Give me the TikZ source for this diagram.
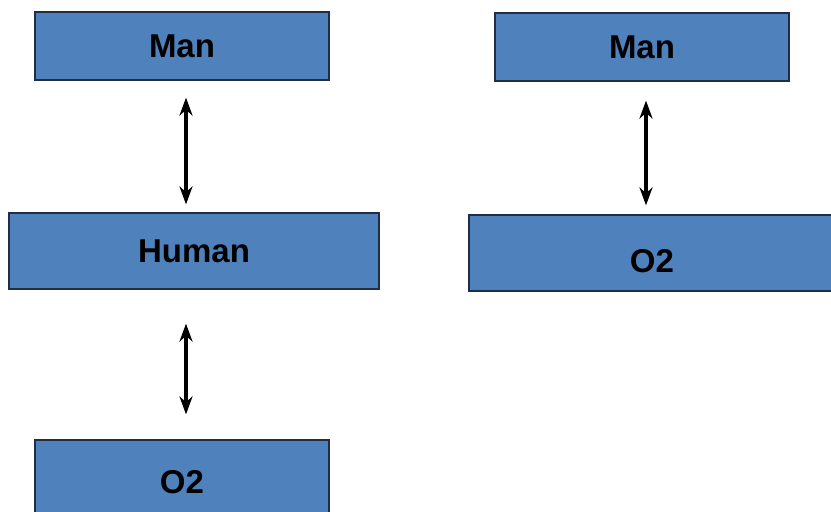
\documentclass[tikz,border=0pt]{standalone}
\usepackage{fontspec}
\setmainfont{Liberation Sans}
\usetikzlibrary{arrows.meta}
\definecolor{boxblue}{HTML}{4F81BD}
\definecolor{boxedge}{HTML}{1F2D45}
\begin{document}
\begin{tikzpicture}[x=1pt,y=-1pt,
  bluebox/.style={draw=boxedge,line width=1.2pt,fill=boxblue,inner sep=0pt,
    font=\fontsize{33}{33}\selectfont\bfseries,text=black},
  link/.style={line width=3.4pt,{Stealth[length=18pt,width=13pt]}-{Stealth[length=18pt,width=13pt]}}]
\useasboundingbox (0,0) rectangle (831,512);
\clip (0,0) rectangle (831,512);
\fill[white] (0,0) rectangle (831,512);
\node[bluebox,minimum width=294pt,minimum height=68pt] (man1) at (182,46) {Man};
\node[bluebox,minimum width=370pt,minimum height=76pt] (human) at (194,251) {Human};
\node[bluebox,minimum width=294pt,minimum height=84pt] (o21) at (182,482) {O2};
\node[bluebox,minimum width=294pt,minimum height=68pt] (man2) at (642,47) {Man};
\node[bluebox,minimum width=366pt,minimum height=76pt,text height=38pt,text depth=0pt] (o22) at (652,253) {O2};
\draw[link,shorten <=17pt,shorten >=8pt] (man1.south -| 186,0) -- (human.north -| 186,0);
\draw[link,shorten <=34pt,shorten >=25pt] (human.south -| 186,0) -- (o21.north -| 186,0);
\draw[link,shorten <=19pt,shorten >=9pt] (man2.south -| 646,0) -- (o22.north -| 646,0);
\end{tikzpicture}
\end{document}
